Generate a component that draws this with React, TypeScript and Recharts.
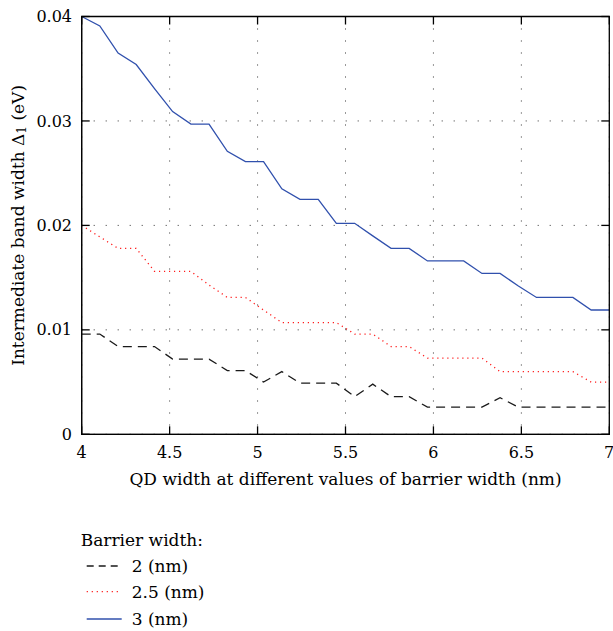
import React from 'react';
import { LineChart, Line, XAxis, YAxis, CartesianGrid } from 'recharts';

// ---- data ----
const qdWidth = [
  4, 4.103, 4.207, 4.31, 4.414, 4.517, 4.621, 4.724, 4.828, 4.931,
  5.034, 5.138, 5.241, 5.345, 5.448, 5.552, 5.655, 5.759, 5.862, 5.966,
  6.069, 6.172, 6.276, 6.379, 6.483, 6.586, 6.69, 6.793, 6.897, 7,
];
const barrier2nm = [
  0.0096, 0.0096, 0.0084, 0.0084, 0.0084, 0.0072, 0.0072, 0.0072, 0.0061, 0.0061,
  0.005, 0.006, 0.0049, 0.0049, 0.0049, 0.0036, 0.0048, 0.0036, 0.0036, 0.0026,
  0.0026, 0.0026, 0.0026, 0.0035, 0.0026, 0.0026, 0.0026, 0.0026, 0.0026, 0.0026,
];
const barrier25nm = [
  0.02, 0.0189, 0.0178, 0.0178, 0.0156, 0.0156, 0.0156, 0.0143, 0.0131, 0.0131,
  0.0119, 0.0107, 0.0107, 0.0107, 0.0107, 0.0096, 0.0096, 0.0084, 0.0084, 0.0073,
  0.0073, 0.0073, 0.0073, 0.006, 0.006, 0.006, 0.006, 0.006, 0.005, 0.005,
];
const barrier3nm = [
  0.04, 0.0391, 0.0365, 0.0354, 0.0331, 0.0309, 0.0297, 0.0297, 0.0271, 0.0261,
  0.0261, 0.0235, 0.0225, 0.0225, 0.0202, 0.0202, 0.019, 0.0178, 0.0178, 0.0166,
  0.0166, 0.0166, 0.0154, 0.0154, 0.0142, 0.0131, 0.0131, 0.0131, 0.0119, 0.0119,
];
const seriesNames = ['2 (nm)', '2.5 (nm)', '3 (nm)'];
const xTicks = [4, 4.5, 5, 5.5, 6, 6.5, 7];
const yTicks = [0, 0.01, 0.02, 0.03, 0.04];
const xDomain = [4, 7];
const yDomain = [0, 0.04];
const legendTitle = 'Barrier width:';
const xAxisTitle = 'QD width at different values of barrier width (nm)';
const yAxisTitleMain = 'Intermediate band width Δ';
const yAxisTitleSub = '1';
const yAxisTitleTail = ' (eV)';

const data = qdWidth.map((x, i) => ({
  x,
  b2: barrier2nm[i],
  b25: barrier25nm[i],
  b3: barrier3nm[i],
}));

// ---- layout & styles ----
const FONT = '"DejaVu Serif", serif';
const W = 613;
const H = 631;
const PLOT_TOP = 16.5;
const PLOT_LEFT = 81.7;
const PLOT_RIGHT = 609.3;
const X_AXIS_H = 60;
const PLOT_BOTTOM = 434.3;
const TICK_LEN = 8;
const FRAME_W = 1.3;

const seriesStyles = [
  { key: 'b2', color: '#1a1a1a', dash: '9 6', legendDash: '7 5' },
  { key: 'b25', color: '#ff1a1a', dash: '1.2 3.8', legendDash: '1.2 3.8' },
  { key: 'b3', color: '#3050ad', dash: undefined as string | undefined, legendDash: undefined as string | undefined },
];

// frame tick positions follow the same linear mapping as the plot area
const frameX = (v: number) =>
  PLOT_LEFT + ((v - xDomain[0]) / (xDomain[1] - xDomain[0])) * (PLOT_RIGHT - PLOT_LEFT);
const frameY = (v: number) =>
  PLOT_BOTTOM - ((v - yDomain[0]) / (yDomain[1] - yDomain[0])) * (PLOT_BOTTOM - PLOT_TOP);

const BottomTick = (props: any) => {
  const { x, y, payload } = props;
  return (
    <text x={x} y={y + 24} textAnchor="middle" fontSize={16} fill="#000" fontFamily={FONT}>
      {payload.value}
    </text>
  );
};

const LeftTick = (props: any) => {
  const { x, y, payload } = props;
  return (
    <text x={x - 9.7} y={y} dy="0.35em" textAnchor="end" fontSize={16} fill="#000" fontFamily={FONT}>
      {payload.value}
    </text>
  );
};

const XTitle = (props: any) => {
  const vb = props.viewBox;
  return (
    <text x={vb.x + vb.width / 2} y={vb.y + 51} textAnchor="middle" fontSize={17} fill="#000" fontFamily={FONT}>
      {xAxisTitle}
    </text>
  );
};

const YTitle = (props: any) => {
  const vb = props.viewBox;
  const cx = 18;
  const cy = vb.y + vb.height / 2;
  return (
    <text
      x={cx}
      y={cy}
      transform={`rotate(-90 ${cx} ${cy})`}
      textAnchor="middle"
      dominantBaseline="central"
      fontSize={17}
      fill="#000"
      fontFamily={FONT}
    >
      {yAxisTitleMain}
      <tspan dy={4} fontSize={12}>{yAxisTitleSub}</tspan>
      <tspan dy={-4}>{yAxisTitleTail}</tspan>
    </text>
  );
};

export default function App() {
  const rowY = [566, 591.7, 619];
  return (
    <div style={{ position: 'absolute', left: 0, top: 0, width: W, height: H, fontFamily: FONT }}>
      <LineChart
        width={W}
        height={H}
        data={data}
        margin={{ top: PLOT_TOP, right: W - PLOT_RIGHT, left: 0, bottom: H - PLOT_BOTTOM - X_AXIS_H }}
        style={{ fontFamily: FONT }}
      >
        <CartesianGrid stroke="#333" strokeDasharray="1 11" />
        <XAxis
          dataKey="x"
          type="number"
          domain={xDomain}
          ticks={xTicks}
          height={X_AXIS_H}
          stroke="#000"
          tickSize={0}
          tickMargin={0}
          tickLine={false}
          tick={<BottomTick />}
          label={<XTitle />}
        />
        <YAxis
          type="number"
          domain={yDomain}
          ticks={yTicks}
          width={PLOT_LEFT}
          stroke="#000"
          tickSize={0}
          tickMargin={0}
          tickLine={false}
          tick={<LeftTick />}
          label={<YTitle />}
        />
        {seriesStyles.map((s, i) => (
          <Line
            key={s.key}
            dataKey={s.key}
            name={seriesNames[i]}
            type="linear"
            stroke={s.color}
            strokeWidth={1.3}
            strokeDasharray={s.dash}
            dot={false}
            activeDot={false}
            isAnimationActive={false}
          />
        ))}
      </LineChart>
      <svg width={W} height={H} style={{ position: 'absolute', left: 0, top: 0, pointerEvents: 'none' }}>
        <path
          d={`M${PLOT_LEFT},${PLOT_TOP}H${PLOT_RIGHT}V${PLOT_BOTTOM}H${PLOT_LEFT}Z`}
          fill="none"
          stroke="#000"
          strokeWidth={FRAME_W}
        />
        {xTicks.map((t) => (
          <g key={`xt${t}`}>
            <line x1={frameX(t)} x2={frameX(t)} y1={PLOT_BOTTOM} y2={PLOT_BOTTOM - TICK_LEN} stroke="#000" strokeWidth={FRAME_W} />
            <line x1={frameX(t)} x2={frameX(t)} y1={PLOT_TOP} y2={PLOT_TOP + TICK_LEN} stroke="#000" strokeWidth={FRAME_W} />
          </g>
        ))}
        {yTicks.map((t) => (
          <g key={`yt${t}`}>
            <line x1={PLOT_LEFT} x2={PLOT_LEFT + TICK_LEN} y1={frameY(t)} y2={frameY(t)} stroke="#000" strokeWidth={FRAME_W} />
            <line x1={PLOT_RIGHT} x2={PLOT_RIGHT - TICK_LEN} y1={frameY(t)} y2={frameY(t)} stroke="#000" strokeWidth={FRAME_W} />
          </g>
        ))}
        <text x={80.7} y={546} fontSize={17} fill="#000" fontFamily={FONT}>{legendTitle}</text>
        {seriesStyles.map((s, i) => (
          <g key={s.key}>
            <line
              x1={86.7}
              x2={121.7}
              y1={rowY[i]}
              y2={rowY[i]}
              stroke={s.color}
              strokeWidth={1.3}
              strokeDasharray={s.legendDash}
            />
            <text x={131.7} y={rowY[i] + 5.8} fontSize={17} fill="#000" fontFamily={FONT}>
              {seriesNames[i]}
            </text>
          </g>
        ))}
      </svg>
    </div>
  );
}
